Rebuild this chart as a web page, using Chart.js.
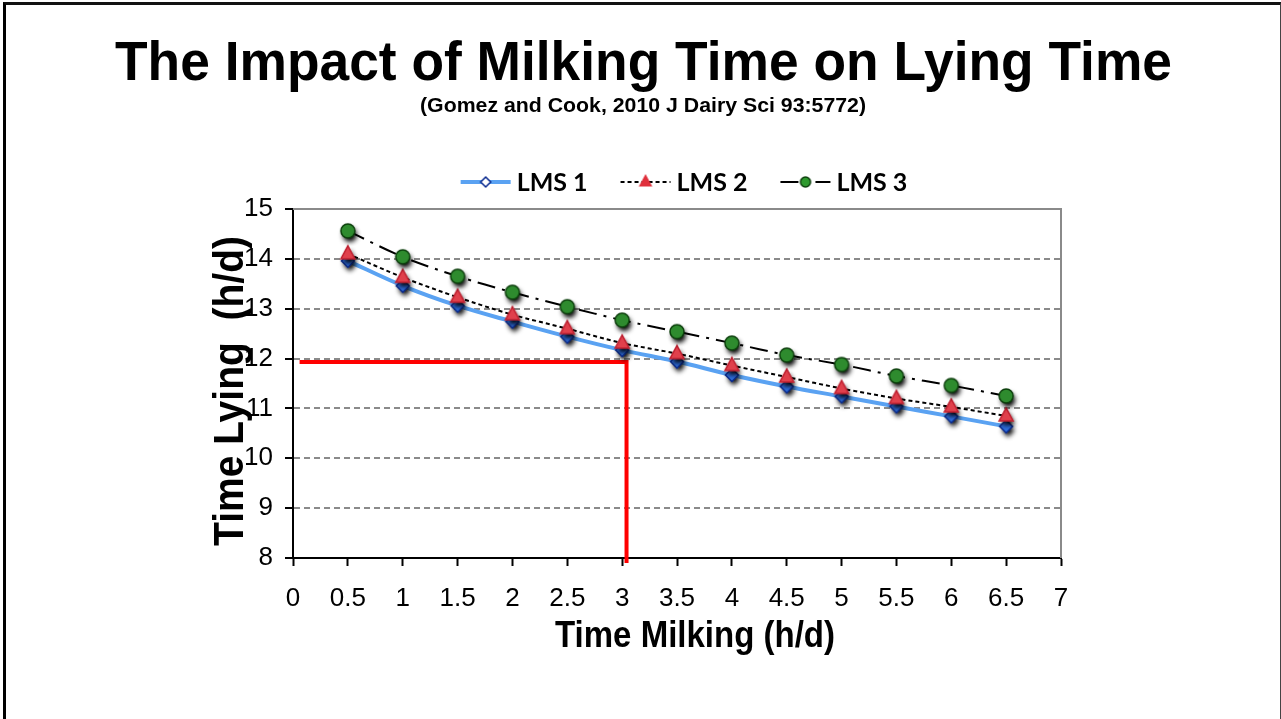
<!DOCTYPE html>
<html>
<head>
<meta charset="utf-8">
<title>The Impact of Milking Time on Lying Time</title>
<script src="https://cdn.jsdelivr.net/npm/chart.js@4.4.1/dist/chart.umd.min.js"></script>
<style>
  html, body { margin: 0; padding: 0; background: #fff; overflow: hidden; }
  #wrap { position: relative; width: 1281px; height: 719px; }
  #frame {
    position: absolute; left: 3px; top: 2px; width: 1274px; height: 740px;
    border-left: 3px solid #000; border-top: 3px solid #111; border-right: 1px solid #444;
    pointer-events: none;
  }
  #lyingChart { position: absolute; left: 0; top: 0; }
</style>
</head>
<body>
<div id="wrap">
  <canvas id="lyingChart" width="1281" height="719"></canvas>
  <div id="frame"></div>
</div>
<script>
// Milking time (h/d) and predicted lying time (h/d) per stall group
const milkingHours = [0.5, 1, 1.5, 2, 2.5, 3, 3.5, 4, 4.5, 5, 5.5, 6, 6.5];
const lms1 = [13.96, 13.46, 13.06, 12.74, 12.44, 12.17, 11.94, 11.67, 11.44, 11.24, 11.04, 10.84, 10.64];
const lms2 = [14.10, 13.63, 13.23, 12.88, 12.60, 12.31, 12.10, 11.86, 11.63, 11.40, 11.20, 11.03, 10.85];
const lms3 = [14.56, 14.04, 13.65, 13.33, 13.04, 12.77, 12.54, 12.31, 12.07, 11.88, 11.65, 11.46, 11.25];
const seriesNames = ['LMS 1', 'LMS 2', 'LMS 3'];

// Red guide: 3 h milking -> ~12 h lying
const refMilking = [0.06, 3.04, 3.04];
const refLying = [11.93, 11.93, 7.9];

// Axis ticks
const xTickValues = [0, 0.5, 1, 1.5, 2, 2.5, 3, 3.5, 4, 4.5, 5, 5.5, 6, 6.5, 7];
const yTickValues = [8, 9, 10, 11, 12, 13, 14, 15];

const SANS = '"Liberation Sans", Arial, sans-serif';

// Marker sprites; the plot ones carry a soft dark drop shadow
function makeMarker(kind, fill, stroke, r, shadow) {
    const c = document.createElement('canvas');
    c.width = c.height = 36;
    const g = c.getContext('2d');
    g.translate(18, 18);
    function shape() {
        g.beginPath();
        if (kind === 'diamond') {
            g.moveTo(0, -r); g.lineTo(r, 0); g.lineTo(0, r); g.lineTo(-r, 0);
        } else if (kind === 'triangle') {
            g.moveTo(0, -r * 1.15); g.lineTo(r, r * 0.7); g.lineTo(-r, r * 0.7);
        } else {
            g.arc(0, 0, r, 0, Math.PI * 2);
        }
        g.closePath();
    }
    if (shadow) {
        g.save();
        g.shadowColor = 'rgba(0,0,0,1)';
        g.shadowBlur = 5;
        g.shadowOffsetX = 2;
        g.shadowOffsetY = 4;
        shape();
        g.fillStyle = '#000';
        g.fill();
        g.restore();
    }
    shape();
    g.fillStyle = fill;
    g.fill();
    g.lineWidth = 1.5;
    g.strokeStyle = stroke;
    g.stroke();
    return c;
}

const markers = {
    lms1: makeMarker('diamond', '#2f6fe0', '#0a2a8f', 6.5, true),
    lms2: makeMarker('triangle', '#e0404c', '#c02030', 7, true),
    lms3: makeMarker('circle', '#2e8b2e', '#0c3f0c', 7, true)
};
const legendMarkers = [
    makeMarker('diamond', '#ffffff', '#0a2a8f', 5, false),
    makeMarker('triangle', '#e0303c', '#e0303c', 5.5, false),
    makeMarker('circle', '#2e9a2e', '#0c3f0c', 5, false)
];

function toPoints(xs, ys) {
    return xs.map((x, i) => ({ x: x, y: ys[i] }));
}

function drawFitText(ctx, text, font, cx, baseY, width, rotated) {
    ctx.save();
    ctx.font = font;
    const w = ctx.measureText(text).width;
    ctx.translate(cx, baseY);
    if (rotated) ctx.rotate(-Math.PI / 2);
    ctx.scale(width / w, 1);
    ctx.fillStyle = '#000';
    ctx.textAlign = 'center';
    ctx.textBaseline = 'alphabetic';
    ctx.fillText(text, 0, 0);
    ctx.restore();
}

// Titles, axis titles, legend and the gray plot frame
const slideDecor = {
    id: 'slideDecor',
    beforeDatasetsDraw(chart) {
        const { ctx, chartArea: a } = chart;
        ctx.save();
        ctx.strokeStyle = '#8a8a8a';
        ctx.lineWidth = 2;
        ctx.beginPath();
        ctx.moveTo(a.left, a.top);
        ctx.lineTo(a.right, a.top);
        ctx.lineTo(a.right, a.bottom);
        ctx.stroke();
        ctx.restore();
    },
    afterDraw(chart) {
        const { ctx, chartArea: a } = chart;
        drawFitText(ctx, 'The Impact of Milking Time on Lying Time', 'bold 56px ' + SANS, 643.5, 80, 1057);
        drawFitText(ctx, '(Gomez and Cook, 2010 J Dairy Sci 93:5772)', 'bold 21px ' + SANS, 643, 112, 446);
        drawFitText(ctx, 'Time Milking (h/d)', 'bold 36px ' + SANS, 695, 647, 280);
        drawFitText(ctx, 'Time Lying  (h/d)', 'bold 43px ' + SANS, 243, 391, 310, true);

        // legend: line sample with marker, then series name
        const y = 182;
        const lineLen = 50, gap = 6, spacing = 33;
        ctx.save();
        ctx.font = 'bold 25px Lato, ' + SANS;
        const widths = seriesNames.map(n => ctx.measureText(n).width);
        const total = widths.reduce((s, w) => s + lineLen + gap + w, 0) + spacing * (seriesNames.length - 1);
        let x = (a.left + a.right) / 2 + 7 - total / 2;
        seriesNames.forEach((name, i) => {
            const ds = chart.data.datasets[i];
            ctx.save();
            ctx.strokeStyle = ds.borderColor;
            ctx.lineWidth = ds.borderWidth;
            ctx.setLineDash(ds.borderDash || []);
            ctx.beginPath();
            ctx.moveTo(x, y);
            ctx.lineTo(x + lineLen, y);
            ctx.stroke();
            ctx.restore();
            const m = legendMarkers[i];
            ctx.drawImage(m, x + lineLen / 2 - 18, y - 18);
            ctx.fillStyle = '#000';
            ctx.textAlign = 'left';
            ctx.textBaseline = 'middle';
            ctx.fillText(name, x + lineLen + gap, y + 1);
            x += lineLen + gap + widths[i] + spacing;
        });
        ctx.restore();
    }
};

const ctx = document.getElementById('lyingChart');

new Chart(ctx, {
    type: 'line',
    data: {
        datasets: [{
            label: seriesNames[0],
            data: toPoints(milkingHours, lms1),
            borderColor: '#5aa2f2',
            borderWidth: 4,
            tension: 0.35,
            pointStyle: markers.lms1,
            order: 2
        }, {
            label: seriesNames[1],
            data: toPoints(milkingHours, lms2),
            borderColor: '#000',
            borderWidth: 2,
            borderDash: [4, 3],
            tension: 0.3,
            pointStyle: markers.lms2,
            order: 1
        }, {
            label: seriesNames[2],
            data: toPoints(milkingHours, lms3),
            borderColor: '#000',
            borderWidth: 2,
            borderDash: [18, 7, 3, 7],
            tension: 0.3,
            pointStyle: markers.lms3,
            order: 0
        }, {
            label: 'guide',
            data: toPoints(refMilking, refLying),
            borderColor: '#ff0000',
            borderWidth: 4,
            pointRadius: 0,
            tension: 0,
            clip: false,
            order: 3
        }]
    },
    options: {
        responsive: false,
        animation: false,
        layout: {
            padding: { left: 0, top: 209, right: 220, bottom: 0 }
        },
        plugins: {
            legend: { display: false },
            tooltip: { enabled: false }
        },
        scales: {
            x: {
                type: 'linear',
                min: 0,
                max: 7,
                afterBuildTicks: s => { s.ticks = xTickValues.map(v => ({ value: v })); },
                afterFit: s => { s.height = 161; s.paddingLeft = 0; s.paddingRight = 0; },
                ticks: {
                    font: { family: SANS, size: 26 },
                    color: '#000',
                    padding: 17,
                    maxRotation: 0,
                    autoSkip: false,
                    callback: v => String(v)
                },
                grid: {
                    drawOnChartArea: false,
                    tickLength: 8,
                    tickColor: '#000',
                    tickWidth: 2
                },
                border: { color: '#000', width: 2 }
            },
            y: {
                type: 'linear',
                min: 8,
                max: 15,
                afterBuildTicks: s => { s.ticks = yTickValues.map(v => ({ value: v })); },
                afterFit: s => { s.width = 293; s.paddingTop = 0; s.paddingBottom = 0; },
                ticks: {
                    font: { family: SANS, size: 26 },
                    color: '#000',
                    padding: 12
                },
                grid: {
                    color: c => (c.tick && c.tick.value === 8) ? 'rgba(0,0,0,0)' : '#8a8a8a',
                    lineWidth: 2,
                    tickLength: 8,
                    tickColor: '#000',
                    tickWidth: 2
                },
                border: {
                    color: '#000',
                    width: 2,
                    dash: c => (c.tick && c.tick.value === 15) ? [] : [6, 4]
                }
            }
        }
    },
    plugins: [slideDecor]
});
</script>
</body>
</html>
